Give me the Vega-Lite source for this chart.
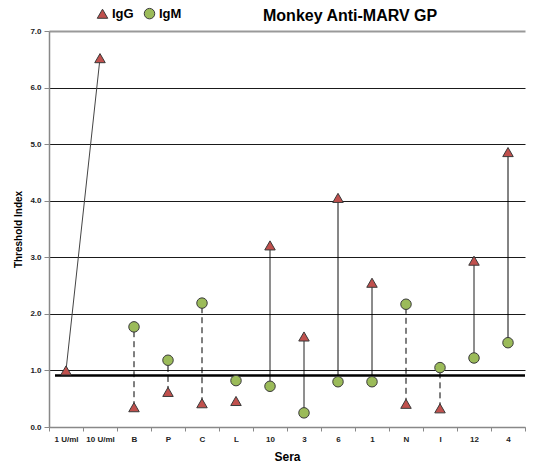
{
  "$schema": "https://vega.github.io/schema/vega-lite/v6.json",
  "width": 476,
  "height": 396,
  "autosize": {"type": "none"},
  "padding": {"left": 49, "top": 31, "right": 12, "bottom": 34},
  "background": "white",
  "config": {"view": {"stroke": null}, "font": "Liberation Sans"},
  "title": {"text": "Monkey Anti-MARV GP", "anchor": "start", "frame": "group", "dx": 214, "dy": 25, "fontSize": 16, "fontWeight": "bold", "color": "#000", "offset": 8},
  "datasets": {
    "points": [
      {"sera": "1 U/ml", "ig": "IgG", "value": 1.0},
      {"sera": "10 U/ml", "ig": "IgG", "value": 6.52},
      {"sera": "B", "ig": "IgG", "value": 0.35},
      {"sera": "B", "ig": "IgM", "value": 1.77},
      {"sera": "P", "ig": "IgG", "value": 0.62},
      {"sera": "P", "ig": "IgM", "value": 1.18},
      {"sera": "C", "ig": "IgG", "value": 0.42},
      {"sera": "C", "ig": "IgM", "value": 2.19},
      {"sera": "L", "ig": "IgG", "value": 0.46},
      {"sera": "L", "ig": "IgM", "value": 0.82},
      {"sera": "10", "ig": "IgG", "value": 3.21},
      {"sera": "10", "ig": "IgM", "value": 0.72},
      {"sera": "3", "ig": "IgG", "value": 1.6},
      {"sera": "3", "ig": "IgM", "value": 0.25},
      {"sera": "6", "ig": "IgG", "value": 4.05},
      {"sera": "6", "ig": "IgM", "value": 0.8},
      {"sera": "1", "ig": "IgG", "value": 2.55},
      {"sera": "1", "ig": "IgM", "value": 0.8},
      {"sera": "N", "ig": "IgG", "value": 0.41},
      {"sera": "N", "ig": "IgM", "value": 2.17},
      {"sera": "I", "ig": "IgG", "value": 0.33},
      {"sera": "I", "ig": "IgM", "value": 1.05},
      {"sera": "12", "ig": "IgG", "value": 2.94},
      {"sera": "12", "ig": "IgM", "value": 1.22},
      {"sera": "4", "ig": "IgG", "value": 4.86},
      {"sera": "4", "ig": "IgM", "value": 1.49}
    ],
    "links": [
      {"sera": "B", "igg": 0.35, "igm": 1.77, "style": "dashed"},
      {"sera": "P", "igg": 0.62, "igm": 1.18, "style": "dashed"},
      {"sera": "C", "igg": 0.42, "igm": 2.19, "style": "dashed"},
      {"sera": "10", "igg": 3.21, "igm": 0.72, "style": "solid"},
      {"sera": "3", "igg": 1.6, "igm": 0.25, "style": "solid"},
      {"sera": "6", "igg": 4.05, "igm": 0.8, "style": "solid"},
      {"sera": "1", "igg": 2.55, "igm": 0.8, "style": "solid"},
      {"sera": "N", "igg": 0.41, "igm": 2.17, "style": "dashed"},
      {"sera": "I", "igg": 0.33, "igm": 1.05, "style": "dashed"},
      {"sera": "12", "igg": 2.94, "igm": 1.22, "style": "solid"},
      {"sera": "4", "igg": 4.86, "igm": 1.49, "style": "solid"}
    ],
    "standard": [
      {"sera": "1 U/ml", "value": 1.0},
      {"sera": "10 U/ml", "value": 6.52}
    ]
  },
  "encoding": {
    "x": {
      "field": "sera", "type": "nominal",
      "sort": ["1 U/ml", "10 U/ml", "B", "P", "C", "L", "10", "3", "6", "1", "N", "I", "12", "4"],
      "scale": {"type": "band", "paddingInner": 0, "paddingOuter": 0,
        "domain": ["1 U/ml", "10 U/ml", "B", "P", "C", "L", "10", "3", "6", "1", "N", "I", "12", "4"]},
      "axis": {
        "title": "Sera", "titleFontSize": 12, "titleFontWeight": "bold", "titleColor": "#000", "titlePadding": 8,
        "labelAngle": 0, "labelFontSize": 8, "labelFontWeight": "bold", "labelColor": "#222", "labelPadding": 4,
        "tickBand": "extent", "tickSize": 4, "tickColor": "#888", "domainColor": "#888", "domainWidth": 1.5, "grid": false
      }
    }
  },
  "layer": [
    {
      "data": {"values": [{"threshold": 0.91}]},
      "mark": {"type": "rule", "color": "#000", "strokeWidth": 2.5, "x": 6, "x2": "width"},
      "encoding": {
        "x": null,
        "y": {"field": "threshold", "type": "quantitative",
          "scale": {"domain": [0, 7], "nice": false, "zero": true},
          "axis": {
            "title": "Threshold Index", "titleFontSize": 10, "titleFontWeight": "bold", "titleColor": "#000", "titlePadding": 6,
            "values": [0, 1, 2, 3, 4, 5, 6, 7], "format": ".1f",
            "labelFontSize": 8, "labelFontWeight": "bold", "labelColor": "#222", "labelPadding": 3,
            "tickSize": 5, "tickColor": "#888", "domainColor": "#888", "domainWidth": 1.5,
            "grid": true,
            "gridColor": {"condition": {"test": "datum.value === 7 || datum.value === 0", "value": "#999"}, "value": "#000"},
            "gridWidth": {"condition": {"test": "datum.value === 7", "value": 2}, "value": 0.9}
          }
        }
      }
    },
    {
      "data": {"name": "standard"},
      "mark": {"type": "line", "color": "#444", "strokeWidth": 1},
      "encoding": {
        "y": {"field": "value", "type": "quantitative"}
      }
    },
    {
      "data": {"name": "links"},
      "mark": {"type": "rule", "color": "#000", "strokeWidth": 1},
      "encoding": {
        "y": {"field": "igg", "type": "quantitative"},
        "y2": {"field": "igm"},
        "strokeDash": {"field": "style", "type": "nominal",
          "scale": {"domain": ["solid", "dashed"], "range": [[1, 0], [6, 4]]}, "legend": null}
      }
    },
    {
      "data": {"name": "points"},
      "mark": {"type": "point", "filled": true, "opacity": 1, "stroke": "#3a3a3a", "strokeWidth": 1},
      "encoding": {
        "y": {"field": "value", "type": "quantitative"},
        "color": {"field": "ig", "type": "nominal",
          "scale": {"domain": ["IgG", "IgM"], "range": ["#C0504D", "#9BBB59"]},
          "legend": {"orient": "none", "legendX": 47, "legendY": -24, "direction": "horizontal", "title": null,
            "labelFontSize": 13, "labelFontWeight": "bold", "labelColor": "#000", "symbolSize": 90,
            "symbolStrokeColor": "#3a3a3a", "symbolStrokeWidth": 1, "columnPadding": 8, "labelOffset": 3}},
        "shape": {"field": "ig", "type": "nominal",
          "scale": {"domain": ["IgG", "IgM"], "range": ["triangle-up", "circle"]}},
        "size": {"field": "ig", "type": "nominal",
          "scale": {"domain": ["IgG", "IgM"], "range": [110, 110]}, "legend": null}
      }
    }
  ]
}
